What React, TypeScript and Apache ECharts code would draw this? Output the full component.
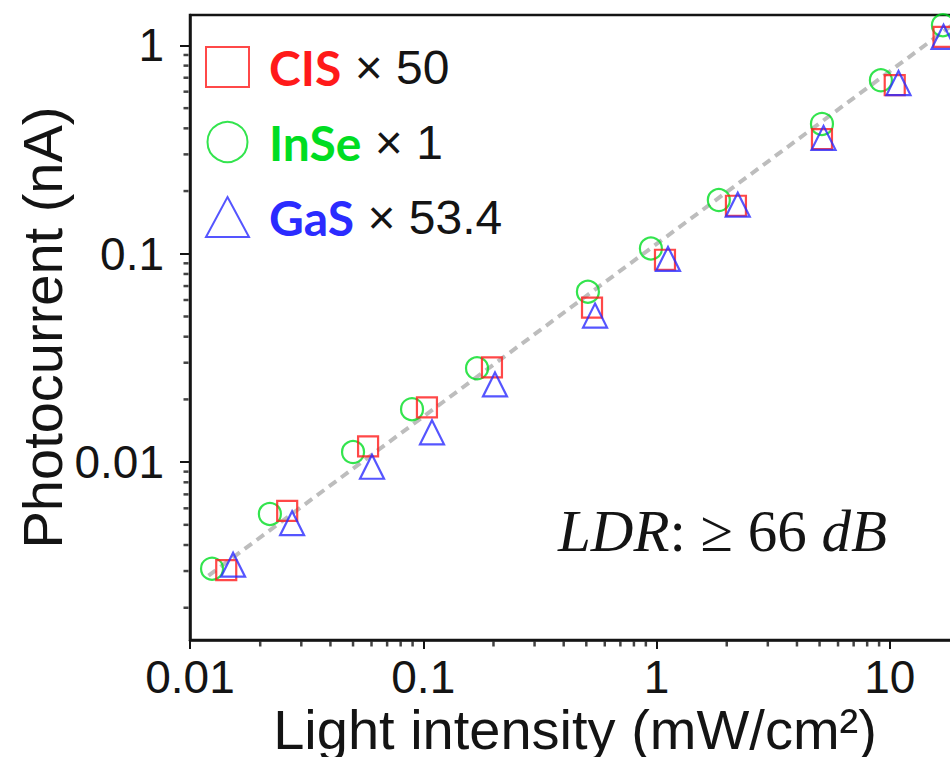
import React, { useEffect, useRef } from 'react';
import * as echarts from 'echarts';

// Series values (x: light intensity mW/cm², y: photocurrent nA, already scaled)
const cisX = [0.0143, 0.0261, 0.058, 0.1037, 0.197, 0.529, 1.087, 2.19, 5.12, 10.5, 17.0];
const cisY = [0.00303, 0.00583, 0.0119, 0.0183, 0.0285, 0.0552, 0.0936, 0.170, 0.355, 0.645, 1.10];
const inseX = [0.01243, 0.022, 0.050, 0.0895, 0.170, 0.508, 0.946, 1.85, 5.12, 9.16, 16.9];
const inseY = [0.00308, 0.00564, 0.01117, 0.01795, 0.0282, 0.0657, 0.106, 0.181, 0.42, 0.68, 1.25];
const gasX = [0.0153, 0.0274, 0.0603, 0.109, 0.203, 0.545, 1.12, 2.23, 5.2, 10.9, 17.0];
const gasY = [0.00322, 0.00509, 0.0095, 0.0139, 0.0236, 0.0505, 0.0945, 0.172, 0.36, 0.66, 1.10];

// Fit (guide) line end points
const fitX = [0.012, 20];
const fitY = [0.00285, 1.335];

// Axis ranges and tick values
const X_MIN = 0.01;
const X_MAX = 20;
const Y_MIN = 0.0014;
const Y_MAX = 1.4;
const xMajor = [0.01, 0.1, 1, 10];
const xMinor = [0.02, 0.03, 0.04, 0.05, 0.06, 0.07, 0.08, 0.09, 0.2, 0.3, 0.4, 0.5, 0.6, 0.7, 0.8, 0.9, 2, 3, 4, 5, 6, 7, 8, 9];
const yMajor = [0.01, 0.1, 1];
const yMinor = [0.002, 0.003, 0.004, 0.005, 0.006, 0.007, 0.008, 0.009, 0.02, 0.03, 0.04, 0.05, 0.06, 0.07, 0.08, 0.09, 0.2, 0.3, 0.4, 0.5, 0.6, 0.7, 0.8, 0.9];

const legendNames = ['CIS', 'InSe', 'GaS'];
const multipliers = ['50', '1', '53.4'];

const RED = '#ff1a1a';
const GREEN = '#00dd22';
const BLUE = '#2b2bff';
const INK = '#141414';

const zip = (xs: number[], ys: number[]) => xs.map((x, i) => [x, ys[i]]);

export default function App() {
  const ref = useRef<HTMLDivElement>(null);
  useEffect(() => {
    const chart = echarts.init(ref.current!, null, { renderer: 'svg' });
    const fmt = (v: number) => String(v);
    const keyOf: Record<string, string> = { CIS: 'c', InSe: 'g', GaS: 'b' };
    const multOf: Record<string, string> = {};
    legendNames.forEach((n, i) => (multOf[n] = multipliers[i]));
    const nameStyle = (color: string) => ({
      color,
      fontWeight: 'bold' as const,
      fontSize: 48,
      fontFamily: 'Lato, "Liberation Sans", sans-serif',
      padding: [0, 0, 0, 15],
    });

    chart.setOption({
      animation: false,
      backgroundColor: '#ffffff',
      grid: {
        left: 190,
        top: 15,
        right: -10,
        bottom: 117,
        show: true,
        borderColor: INK,
        borderWidth: 2.5,
        backgroundColor: 'transparent',
        containLabel: false,
        outerBoundsMode: 'none',
      },
      legend: {
        show: true,
        data: legendNames,
        orient: 'vertical',
        left: 205,
        top: 43,
        itemWidth: 43,
        itemHeight: 40,
        itemGap: 27,
        padding: 0,
        selectedMode: false,
        formatter: (name: string) => `{${keyOf[name]}|${name}}{m| × ${multOf[name]}}`,
        textStyle: {
          rich: {
            c: nameStyle(RED),
            g: nameStyle(GREEN),
            b: nameStyle(BLUE),
            m: { color: INK, fontSize: 48, fontFamily: '"Liberation Sans", Arial, sans-serif' },
          },
        },
      },
      xAxis: {
        type: 'log',
        logBase: 10,
        min: X_MIN,
        max: X_MAX,
        position: 'bottom',
        splitLine: { show: false },
        minorTick: { show: false },
        name: 'Light intensity (mW/cm²)',
        nameLocation: 'middle',
        nameGap: 61,
        nameMoveOverlap: false,
        nameTextStyle: { fontSize: 56, lineHeight: 56, color: INK, fontFamily: '"Liberation Sans", Arial, sans-serif' },
        axisLine: { show: true, onZero: false, lineStyle: { color: INK, width: 2.5 } },
        axisTick: { show: true, inside: false, length: 9, lineStyle: { color: INK, width: 2 }, customValues: xMajor },
        axisLabel: {
          show: true,
          customValues: xMajor,
          margin: 14,
          fontSize: 46,
          lineHeight: 46,
          color: INK,
          fontFamily: '"Liberation Sans", Arial, sans-serif',
          formatter: fmt,
        },
      },
      yAxis: {
        type: 'log',
        logBase: 10,
        min: Y_MIN,
        max: Y_MAX,
        position: 'left',
        splitLine: { show: false },
        minorTick: { show: false },
        name: 'Photocurrent (nA)',
        nameLocation: 'middle',
        nameGap: 120,
        nameRotate: 90,
        nameMoveOverlap: false,
        nameTextStyle: { fontSize: 56, color: INK, fontFamily: '"Liberation Sans", Arial, sans-serif' },
        axisLine: { show: true, onZero: false, lineStyle: { color: INK, width: 2.5 } },
        axisTick: { show: true, inside: false, length: 10, lineStyle: { color: INK, width: 2 }, customValues: yMajor },
        axisLabel: {
          show: true,
          customValues: yMajor,
          margin: 26,
          fontSize: 46,
          color: INK,
          fontFamily: '"Liberation Sans", Arial, sans-serif',
          formatter: fmt,
        },
      },
      graphic: [
        {
          type: 'text',
          left: 558,
          top: 501,
          z: 10,
          style: {
            text: '{i|LDR}{r|: ≥ 66 }{i|dB}',
            fill: INK,
            rich: {
              i: { fontStyle: 'italic', fontSize: 59, fontFamily: '"Liberation Serif", "DejaVu Serif", serif', fill: INK },
              r: { fontSize: 59, fontFamily: '"Liberation Serif", "DejaVu Serif", serif', fill: INK },
            },
          },
        },
      ],
      series: [
        {
          name: 'xMinorTicks',
          type: 'scatter',
          silent: true,
          clip: false,
          z: 5,
          data: xMinor.map((v) => [v, Y_MIN]),
          symbol: 'rect',
          symbolSize: [2.5, 5],
          symbolOffset: [0, 4],
          itemStyle: { color: INK },
          emphasis: { disabled: true },
        },
        {
          name: 'yMinorTicks',
          type: 'scatter',
          silent: true,
          clip: false,
          z: 5,
          data: yMinor.map((v) => [X_MIN, v]),
          symbol: 'rect',
          symbolSize: [5, 2.5],
          symbolOffset: [-4, 0],
          itemStyle: { color: INK },
          emphasis: { disabled: true },
        },
        {
          name: 'fit',
          type: 'line',
          data: zip(fitX, fitY),
          showSymbol: false,
          symbol: 'none',
          silent: true,
          z: 1,
          lineStyle: { color: '#bdbdbd', width: 4, type: [9, 6] },
        },
        {
          name: 'InSe',
          type: 'scatter',
          data: zip(inseX, inseY),
          symbol: 'circle',
          symbolSize: 22,
          z: 2,
          itemStyle: { color: 'rgba(255,255,255,0)', borderColor: GREEN, borderWidth: 2.2 },
        },
        {
          name: 'CIS',
          type: 'scatter',
          data: zip(cisX, cisY),
          symbol: 'rect',
          symbolSize: 20,
          z: 3,
          itemStyle: { color: 'rgba(255,255,255,0)', borderColor: RED, borderWidth: 2.2 },
        },
        {
          name: 'GaS',
          type: 'scatter',
          data: zip(gasX, gasY),
          symbol: 'triangle',
          symbolSize: 24,
          z: 4,
          itemStyle: { color: 'rgba(255,255,255,0)', borderColor: BLUE, borderWidth: 2.2 },
        },
      ],
    });
    return () => chart.dispose();
  }, []);
  return (
    <div
      ref={ref}
      style={{ position: 'absolute', left: 0, top: 0, width: 950, height: 757, background: '#fff' }}
    />
  );
}
